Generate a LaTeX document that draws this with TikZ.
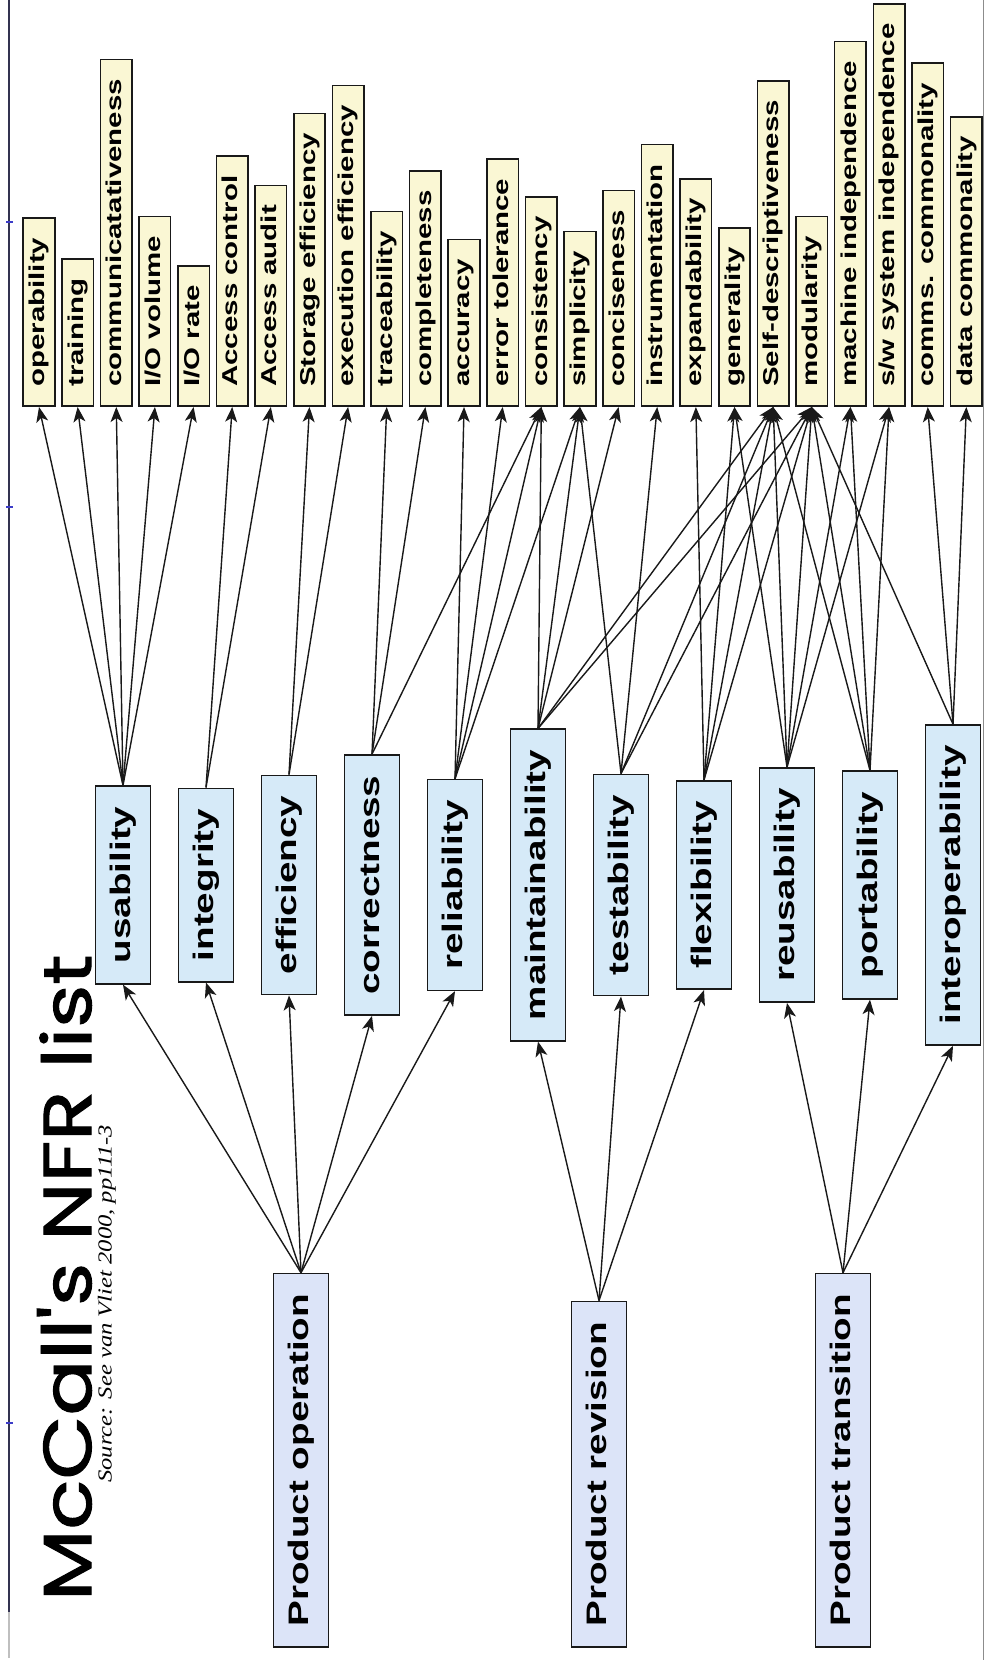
\documentclass[tikz,border=0pt]{standalone}
\usepackage{fontspec}
\setmainfont{Liberation Sans}
\newfontfamily\titlefont{Poppins}[FakeBold=1.4]
\newfontfamily\srcfont{Liberation Serif}
\usetikzlibrary{arrows.meta}

\definecolor{critfill}{RGB}{250,247,212}
\definecolor{factfill}{RGB}{214,234,248}
\definecolor{catfill}{RGB}{220,228,248}
\definecolor{framecol}{RGB}{50,50,80}
\definecolor{tickcol}{RGB}{60,60,200}

% criterion box: bottom edge on the common base line
\newcommand\critnode[3]{\node[critbox] (#1) at ({39+38.64*#2},407) {\scalebox{1.37}[1]{#3}};}
% quality factor box: centred on the middle row
\newcommand\factnode[3]{\node[factbox] (#1) at ({123+83.0*#2},885) {\scalebox{1.37}[1]{#3}};}
% category box: bottom edge on the lower base line
\newcommand\catnode[3]{\node[catbox] (#1) at (#2,1648) {\scalebox{1.37}[1]{#3}};}

\begin{document}
\begin{tikzpicture}[x=1pt,y=-1pt,
  boxline/.style={draw=black!90, line width=1.6pt},
  critbox/.style={boxline, fill=critfill, rotate=90, anchor=west,
    inner xsep=19.5pt, inner ysep=0pt, minimum height=31.5pt,
    text height=16pt, text depth=4.6pt,
    font=\fontsize{21.5}{24}\selectfont\bfseries},
  factbox/.style={boxline, fill=factfill, rotate=90,
    inner xsep=20.5pt, inner ysep=0pt, minimum height=55pt,
    text height=20.8pt, text depth=6pt,
    font=\fontsize{28.2}{32}\selectfont\bfseries},
  catbox/.style={factbox, fill=catfill, anchor=west},
  link/.style={line width=1.4pt, draw=black!90,
    -{Stealth[length=15pt,width=12pt,inset=4pt]}},
]
\fill[white] (0,0) rectangle (986,1660);
\useasboundingbox (0,0) rectangle (986,1660);

% page frame
\draw[framecol, line width=2pt] (9,0) -- (9,1612);
\draw[black!25, line width=2pt] (9,1612) -- (9,1658);
\draw[black!45, line width=1pt] (983,0) -- (983,1660);
\foreach \yy in {222,507,1423}
  \draw[tickcol, line width=1.6pt] (6,\yy) -- (13,\yy);

% title and source
\node[rotate=90, anchor=south west, inner sep=0pt] (title) at (92,1601)
  {\resizebox{646pt}{54pt}{\titlefont McCall's NFR list}};
\node[rotate=90, anchor=south west, inner sep=0pt] (src) at (116,1483)
  {\resizebox*{358pt}{18pt}{\srcfont\itshape Source: See van Vliet 2000, pp111-3}};

% criteria
\critnode{oper}{0}{operability}
\critnode{train}{1}{training}
\critnode{comm}{2}{communicatativeness}
\critnode{iovol}{3}{I/O volume}
\critnode{iorate}{4}{I/O rate}
\critnode{acctl}{5}{Access control}
\critnode{accaud}{6}{Access audit}
\critnode{stoeff}{7}{Storage efficiency}
\critnode{exeeff}{8}{execution efficiency}
\critnode{trace}{9}{traceability}
\critnode{compl}{10}{completeness}
\critnode{accur}{11}{accuracy}
\critnode{errtol}{12}{error tolerance}
\critnode{consis}{13}{consistency}
\critnode{simpl}{14}{simplicity}
\critnode{concis}{15}{conciseness}
\critnode{instr}{16}{instrumentation}
\critnode{expand}{17}{expandability}
\critnode{gener}{18}{generality}
\critnode{selfdesc}{19}{Self-descriptiveness}
\critnode{modul}{20}{modularity}
\critnode{machind}{21}{machine independence}
\critnode{swind}{22}{s/w system independence}
\critnode{commsc}{23}{comms. commonality}
\critnode{datac}{24}{data commonality}

% quality factors
\factnode{usab}{0}{usability}
\factnode{integ}{1}{integrity}
\factnode{effic}{2}{efficiency}
\factnode{correct}{3}{correctness}
\factnode{reliab}{4}{reliability}
\factnode{maint}{5}{maintainability}
\factnode{test}{6}{testability}
\factnode{flex}{7}{flexibility}
\factnode{reuse}{8}{reusability}
\factnode{port}{9}{portability}
\factnode{interop}{10}{interoperability}

% categories
\catnode{prodop}{301}{Product operation}
\catnode{prodrev}{599}{Product revision}
\catnode{prodtr}{843}{Product transition}

% factor -> criteria
\foreach \s/\t in {usab/oper, usab/train, usab/comm, usab/iovol, usab/iorate,
    integ/acctl, integ/accaud, effic/stoeff, effic/exeeff,
    correct/trace, correct/compl, correct/consis,
    reliab/accur, reliab/errtol, reliab/consis, reliab/simpl,
    maint/consis, maint/simpl, maint/concis, maint/selfdesc, maint/modul,
    test/simpl, test/instr, test/selfdesc, test/modul,
    flex/expand, flex/gener, flex/selfdesc, flex/modul,
    reuse/gener, reuse/selfdesc, reuse/modul, reuse/machind, reuse/swind,
    port/selfdesc, port/modul, port/machind, port/swind,
    interop/modul, interop/commsc, interop/datac}
  \draw[link] (\s.east) -- (\t.west);

% category -> factor
\foreach \s/\t in {prodop/usab, prodop/integ, prodop/effic, prodop/correct, prodop/reliab,
    prodrev/maint, prodrev/test, prodrev/flex,
    prodtr/reuse, prodtr/port, prodtr/interop}
  \draw[link] (\s.east) -- (\t.west);
\end{tikzpicture}
\end{document}
